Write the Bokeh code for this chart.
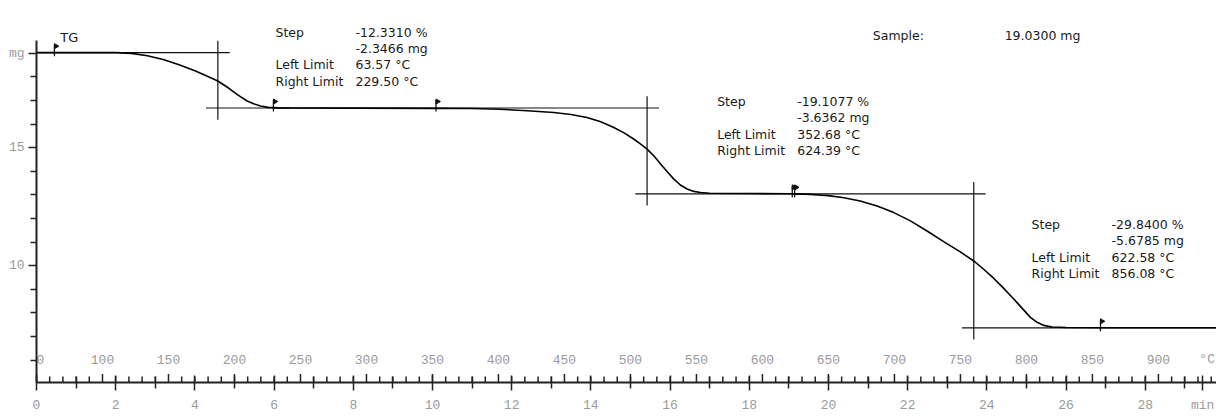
import numpy as np
from bokeh.plotting import figure
from bokeh.models import Range1d, LinearAxis, FixedTicker
from bokeh.core.properties import value
from bokeh.embed import file_html
from bokeh.resources import INLINE

# ---------------- data ----------------
time_min = [0.0, 1.0, 2.0, 2.4, 2.8, 3.2, 3.6, 4.0, 4.3, 4.58, 4.85, 5.1, 5.32, 5.5,
            5.66, 5.85, 6.1, 8.0, 10.0, 11.0, 11.7, 12.4, 13.06, 13.5, 13.9, 14.25,
            14.58, 14.85, 15.08, 15.25, 15.42, 15.6, 15.76, 15.93, 16.09, 16.26, 16.43,
            16.6, 16.77, 17.0, 18.0, 19.0, 19.55, 20.0, 20.39, 20.8, 21.23, 21.65, 22.07,
            22.5, 22.91, 23.3, 23.67, 23.92, 24.17, 24.42, 24.68, 24.9, 25.1, 25.27,
            25.44, 25.65, 26.0, 27.0, 29.8]
mass_mg = [19.03, 19.03, 19.03, 19.00, 18.90, 18.74, 18.52, 18.26, 18.04, 17.83, 17.53,
           17.22, 16.98, 16.85, 16.77, 16.71, 16.69, 16.68, 16.67, 16.66, 16.63, 16.57,
           16.49, 16.41, 16.28, 16.10, 15.86, 15.62, 15.37, 15.16, 14.94, 14.64, 14.31,
           13.98, 13.68, 13.42, 13.25, 13.15, 13.10, 13.07, 13.06, 13.05, 13.02, 12.97,
           12.88, 12.74, 12.53, 12.25, 11.90, 11.46, 11.02, 10.62, 10.20, 9.85, 9.47,
           9.05, 8.59, 8.18, 7.81, 7.60, 7.47, 7.40, 7.38, 7.37, 7.37]

sample_mass = 19.03
step_pct = [-12.3310, -19.1077, -29.8400]
step_mg = [-2.3466, -3.6362, -5.6785]
left_limit_c = [63.57, 352.68, 622.58]
right_limit_c = [229.50, 624.39, 856.08]
inflection_min = [4.58, 15.42, 23.67]

time_ticks = list(range(0, 30, 2))
time_minor = list(range(1, 30, 2))
time_unit_pos = 29.45
temp_ticks = list(range(50, 901, 50))
temp_all = list(range(50, 941, 10))
mass_ticks = [10, 15, 19]
mass_minor = [6, 7, 8, 9, 11, 12, 13, 14, 16, 17, 18]

HEAT_RATE = 30.0   # K/min
T0 = 50.0          # degC at t = 0

# ---------------- figure ----------------
X0, X1 = 0.0, 29.8
Y0, Y1 = 5.05, 21.24
PX = 23.6               # px per mg (for small screen offsets)
PXT = 39.6 / HEAT_RATE  # px per degC

p = figure(width=1216, height=416, x_range=Range1d(X0, X1), y_range=Range1d(Y0, Y1),
           output_backend="svg", toolbar_location=None,
           x_axis_location=None, y_axis_location=None,
           min_border_left=36, min_border_right=0, min_border_top=0, min_border_bottom=34)
p.outline_line_color = None
p.grid.visible = False
p.background_fill_color = "white"
p.border_fill_color = "white"
p.extra_x_ranges = {"temp": Range1d(T0 + HEAT_RATE * X0, T0 + HEAT_RATE * X1)}

MONO = "Liberation Mono"
SANS = "DejaVu Sans"
TICK_GRAY = "#9a9a9a"
INK = "#1a1a1a"

xa = LinearAxis(ticker=FixedTicker(ticks=time_ticks + [time_unit_pos], minor_ticks=time_minor),
                major_label_overrides={time_unit_pos: "min"},
                axis_line_width=2, axis_line_color="#222",
                major_tick_in=7, major_tick_out=8, minor_tick_in=6, minor_tick_out=6,
                major_tick_line_width=1.5, minor_tick_line_width=1.5,
                major_tick_line_color="#222", minor_tick_line_color="#222",
                major_label_standoff=7, major_label_text_font=MONO,
                major_label_text_font_size="13px", major_label_text_color=TICK_GRAY)
p.add_layout(xa, "below")

ya = LinearAxis(ticker=FixedTicker(ticks=mass_ticks, minor_ticks=mass_minor),
                bounds=(Y0, 19.55), major_label_overrides={19: "mg"},
                axis_line_width=2, axis_line_color="#222",
                major_tick_in=0, major_tick_out=8, minor_tick_in=0, minor_tick_out=6,
                major_tick_line_width=1.5, minor_tick_line_width=1.5,
                major_tick_line_color="#222", minor_tick_line_color="#222",
                major_label_standoff=4, major_label_text_font=MONO,
                major_label_text_font_size="13px", major_label_text_color=TICK_GRAY)
p.add_layout(ya, "left")

# temperature scale drawn on the time axis line (ticks upward, labels above)
t_major = [t for t in temp_all if t % 50 == 0]
t_minor = [t for t in temp_all if t % 50 != 0]
p.segment(x0=t_major, x1=t_major, y0=[Y0] * len(t_major), y1=[Y0 + 8.5 / PX] * len(t_major),
          x_range_name="temp", line_color="#222", line_width=1.5)
p.segment(x0=t_minor, x1=t_minor, y0=[Y0] * len(t_minor), y1=[Y0 + 6 / PX] * len(t_minor),
          x_range_name="temp", line_color="#222", line_width=1.5)
p.text(x=temp_ticks, y=[Y0] * len(temp_ticks), text=[str(t) for t in temp_ticks],
       x_range_name="temp", y_offset=-23, text_align="center", text_baseline="middle",
       text_font=value(MONO), text_font_size="13px", text_color=TICK_GRAY)
p.text(x=[931], y=[Y0], text=["°C"], x_range_name="temp", y_offset=-23,
       text_align="left", text_baseline="middle",
       text_font=value(MONO), text_font_size="13px", text_color=TICK_GRAY)

# ---------------- step evaluation construction ----------------
levels = [sample_mass]
for d in step_mg:
    levels.append(levels[-1] + d)

ext = 0.3  # min beyond the vertical construction line
starts_upper = [X0, (right_limit_c[0] - T0) / HEAT_RATE, (right_limit_c[1] - T0) / HEAT_RATE]
for i in range(3):
    up, lo = levels[i], levels[i + 1]
    xi = inflection_min[i]
    p.line([starts_upper[i], xi + ext], [up, up], line_color="#111", line_width=1.2)
    p.line([xi - ext, min(X1, (right_limit_c[i] - T0) / HEAT_RATE + 0.4) if i < 2 else X1],
           [lo, lo], line_color="#111", line_width=1.2)
    p.line([xi, xi], [up + 0.5, lo - 0.5], line_color="#111", line_width=1.2)

# limit flags
flag_T = left_limit_c + right_limit_c
flag_y = levels[:3] + levels[1:]
p.segment(x0=flag_T, x1=flag_T, y0=[y - 3.5 / PX for y in flag_y],
          y1=[y + 8 / PX for y in flag_y], x_range_name="temp", line_color="#111", line_width=1.3)
p.scatter(x=[t + 1.5 / PXT for t in flag_T], y=[y + 6.5 / PX for y in flag_y], x_range_name="temp",
          marker="triangle", angle=-np.pi / 2, size=5, fill_color="#111", line_color="#111")

# TG curve
p.line(time_min, mass_mg, line_color="black", line_width=1.6)

# ---------------- annotations ----------------
def txt(x, y, s, size="12.5px", font=SANS, color=INK, align="left"):
    p.text(x=[x], y=[y], text=[s], text_font=value(font), text_font_size=size,
           text_color=color, text_baseline="middle", text_align=align)

txt(0.6, 19.67, "TG", size="13px")
txt(21.12, 19.76, "Sample:")
txt(24.45, 19.76, f"{sample_mass:.4f} mg")

block_pos = [(6.035, 19.90), (17.19, 16.97), (25.13, 11.75)]
ROW = 16.4 / PX
COL = 80 / 39.6
for i, (bx, by) in enumerate(block_pos):
    labels = ["Step", "", "Left Limit", "Right Limit"]
    vals = [f"{step_pct[i]:.4f} %", f"{step_mg[i]:.4f} mg",
            f"{left_limit_c[i]:.2f} °C", f"{right_limit_c[i]:.2f} °C"]
    for r in range(4):
        if labels[r]:
            txt(bx, by - r * ROW, labels[r])
        txt(bx + COL, by - r * ROW, vals[r])

open("out.html", "w").write(file_html(p, INLINE))
